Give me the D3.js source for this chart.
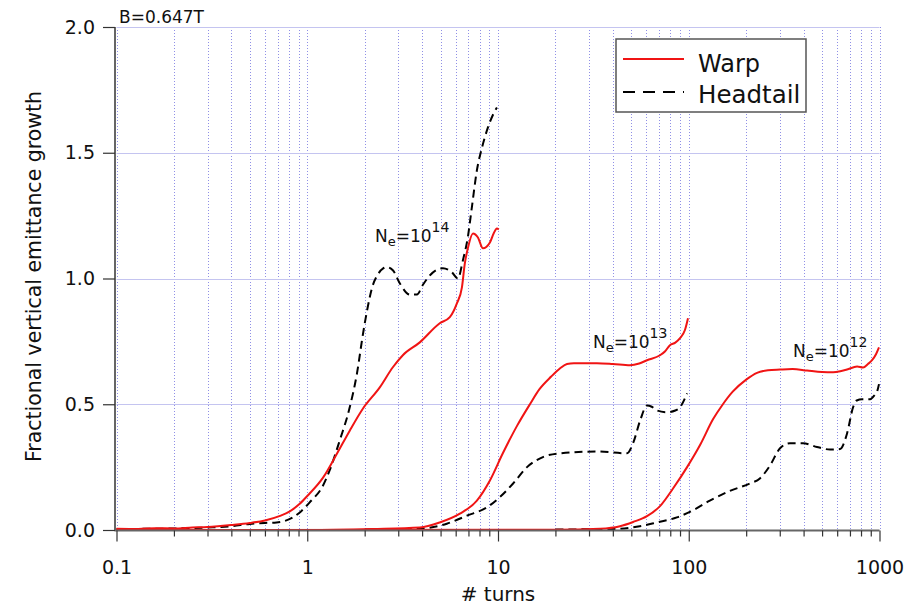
<!DOCTYPE html>
<html><head><meta charset="utf-8">
<script src="https://cdn.jsdelivr.net/npm/d3@7"></script>
<style>body{margin:0;background:#fff}svg{display:block}text{font-family:"DejaVu Sans",sans-serif;fill:#111}</style>
</head><body><svg id="c" width="918" height="606"></svg>
<script>
// ---- data (turns, fractional vertical emittance growth) ----
const warp14 = [[0.1,0.005],[0.13,0.004],[0.16,0.007],[0.2,0.006],[0.25,0.01],[0.3,0.012],[0.35,0.016],[0.4,0.02],[0.5,0.028],[0.6,0.038],[0.72,0.056],[0.81,0.074],[0.91,0.103],[1.0,0.135],[1.21,0.208],[1.43,0.303],[1.67,0.395],[1.96,0.483],[2.4,0.567],[2.81,0.647],[3.17,0.695],[3.89,0.746],[4.95,0.822],[5.59,0.846],[6.08,0.9],[6.47,0.965],[6.7,1.06],[6.95,1.12],[7.39,1.179],[7.85,1.163],[8.34,1.12],[9.07,1.143],[9.5,1.18],[9.87,1.199],[10.1,1.195]];
const headtail14 = [[0.1,0.004],[0.2,0.006],[0.3,0.01],[0.4,0.015],[0.5,0.024],[0.6,0.028],[0.69,0.03],[0.84,0.05],[0.93,0.075],[1.03,0.11],[1.21,0.177],[1.31,0.237],[1.48,0.356],[1.67,0.488],[1.82,0.62],[1.96,0.78],[2.06,0.874],[2.2,0.97],[2.32,1.01],[2.5,1.04],[2.61,1.045],[2.81,1.033],[3.06,0.98],[3.45,0.936],[3.76,0.936],[4.04,0.975],[4.4,1.013],[5.14,1.041],[5.73,1.025],[6.16,1.0],[6.55,1.073],[6.95,1.165],[7.3,1.285],[7.75,1.43],[8.24,1.52],[8.85,1.6],[9.4,1.65],[9.87,1.68]];
const warp13 = [[0.1,0],[1,0],[2.21,0.004],[3.89,0.01],[4.95,0.03],[6.31,0.065],[7.75,0.117],[9.07,0.197],[10.6,0.305],[12.6,0.415],[14.7,0.5],[16.5,0.56],[19,0.61],[21.1,0.642],[23,0.66],[25,0.663],[33,0.663],[40,0.66],[49.2,0.655],[55,0.662],[60.4,0.675],[70.7,0.695],[75,0.71],[79.7,0.735],[85,0.745],[90,0.763],[95.5,0.795],[99.1,0.842]];
const headtail13 = [[2,0.002],[3,0.003],[3.89,0.005],[5.39,0.025],[6.87,0.057],[8.75,0.09],[10.2,0.13],[12,0.185],[14.2,0.25],[17.2,0.29],[21.1,0.305],[33,0.312],[47.5,0.305],[51,0.344],[55.6,0.435],[60.4,0.495],[64,0.49],[68.2,0.475],[76.9,0.468],[85,0.475],[90,0.488],[98,0.543]];
const warp12 = [[0.1,0],[20,0.001],[34.3,0.005],[43.6,0.015],[51.1,0.032],[60.4,0.055],[70.7,0.095],[82.7,0.165],[98,0.25],[115,0.34],[134,0.44],[151,0.5],[170,0.55],[200,0.598],[228,0.625],[260,0.635],[301,0.638],[350,0.64],[417,0.634],[500,0.628],[571,0.627],[630,0.632],[676,0.638],[763,0.65],[820,0.646],[870,0.66],[914,0.675],[960,0.7],[994,0.726]];
const headtail12 = [[20,0.002],[40,0.004],[55.4,0.015],[68,0.03],[86.6,0.05],[105,0.078],[129,0.117],[164,0.155],[209,0.185],[236,0.205],[266,0.255],[301,0.325],[339,0.345],[397,0.345],[470,0.33],[550,0.32],[621,0.322],[676,0.384],[727,0.488],[760,0.515],[810,0.52],[893,0.52],[940,0.535],[971,0.55],[994,0.58]];
const xMajorTicks = [0.1, 1, 10, 100, 1000];
const xTickLabels = ["0.1", "1", "10", "100", "1000"];
const yTicks = [0, 0.5, 1.0, 1.5, 2.0];
const seriesNames = ["Warp", "Headtail"];
const annotations = [
  {exp: "14", t: 2.05, v: 1.15},
  {exp: "13", t: 25, v: 0.72},
  {exp: "12", t: 260, v: 0.69}
];

// ---- drawing ----
const svg = d3.select("#c");
const x = d3.scaleLog().domain([0.1, 1000]).range([116.5, 879.5]);
const y = d3.scaleLinear().domain([0, 2]).range([530, 27]);
const snap = v => Math.round(v) + 0.5;

const xMinor = [];
[0.1, 1, 10, 100].forEach(d => { for (let k = 1; k <= 9; k++) xMinor.push(+(d * k).toPrecision(3)); });
xMinor.push(1000);

// gridlines
const g = svg.append("g");
g.selectAll("line.v").data(xMinor).join("line")
  .attr("x1", d => snap(x(d))).attr("x2", d => snap(x(d)))
  .attr("y1", y(2)).attr("y2", y(0))
  .attr("stroke", "#8f8fe6").attr("stroke-width", 1).attr("stroke-dasharray", "1,2");
g.selectAll("line.h").data(yTicks.filter(d => d > 0)).join("line")
  .attr("x1", x(0.1)).attr("x2", x(1000))
  .attr("y1", d => snap(y(d))).attr("y2", d => snap(y(d)))
  .attr("stroke", "#c4c4f0").attr("stroke-width", 1);

// curves
const line = d3.line().x(d => x(d[0])).y(d => y(d[1])).curve(d3.curveMonotoneX);
[headtail12, headtail13, headtail14].forEach(s => {
  svg.append("path").datum(s).attr("d", line).attr("fill", "none")
    .attr("stroke", "#000").attr("stroke-width", 2).attr("stroke-dasharray", "8,5");
});
[warp12, warp13, warp14].forEach(s => {
  svg.append("path").datum(s).attr("d", line).attr("fill", "none")
    .attr("stroke", "#f01414").attr("stroke-width", 2);
});

// axes
const xAxis = svg.append("g").attr("transform", "translate(0,530.5)")
  .call(d3.axisBottom(x).tickValues(xMajorTicks).tickSize(11).tickSizeOuter(0).tickPadding(19)
    .tickFormat((d, i) => xTickLabels[i]));
svg.append("g").attr("transform", "translate(0,530.5)")
  .call(d3.axisBottom(x).tickValues(xMinor.filter(d => !xMajorTicks.includes(d))).tickSize(6).tickSizeOuter(0).tickFormat(""))
  .call(a => a.select(".domain").remove());
const yAxis = svg.append("g").attr("transform", "translate(115,0)")
  .call(d3.axisLeft(y).tickValues(yTicks).tickFormat(d3.format(".1f")).tickSize(12).tickSizeOuter(0).tickPadding(8));
svg.selectAll(".domain").attr("stroke", "#666").attr("stroke-width", 2);
svg.selectAll(".tick line").attr("stroke", "#333").attr("stroke-width", 1.2);
svg.selectAll(".tick text").style("font-family", "DejaVu Sans").style("font-size", "19px").attr("fill", "#111");
xAxis.select(".domain").attr("d", `M${x(0.1) - 2},0H${x(1000)}`);
yAxis.select(".domain").attr("d", `M0,${y(2)}V${y(0) + 1}`);

// axis titles
svg.append("text").attr("x", 498).attr("y", 601).attr("text-anchor", "middle")
  .style("font-size", "20px").text("# turns");
svg.append("text").attr("transform", "translate(41,276.5) rotate(-90)").attr("text-anchor", "middle")
  .style("font-size", "20.5px").text("Fractional vertical emittance growth");
svg.append("text").attr("x", 119).attr("y", 23).style("font-size", "17px").text("B=0.647T");

// annotations
const ann = svg.append("g");
const annPos = [[375, 242], [593, 348], [793, 357]];
annotations.forEach((a, i) => {
  const t = ann.append("text").attr("x", annPos[i][0]).attr("y", annPos[i][1]).style("font-size", "17px");
  t.append("tspan").text("N");
  t.append("tspan").attr("dy", 4).style("font-size", "13px").text("e");
  t.append("tspan").attr("dy", -4).text("=10");
  t.append("tspan").attr("dy", -10).style("font-size", "14px").text(a.exp);
});

// legend
const lg = svg.append("g");
lg.append("rect").attr("x", 616).attr("y", 39).attr("width", 190).attr("height", 73)
  .attr("fill", "#fff").attr("stroke", "#555").attr("stroke-width", 1.5);
lg.append("line").attr("x1", 623).attr("x2", 684).attr("y1", 59).attr("y2", 59)
  .attr("stroke", "#f01414").attr("stroke-width", 2);
lg.append("line").attr("x1", 623).attr("x2", 684).attr("y1", 92).attr("y2", 92)
  .attr("stroke", "#000").attr("stroke-width", 2).attr("stroke-dasharray", "12,8");
lg.append("text").attr("x", 698).attr("y", 72).style("font-size", "24px").text(seriesNames[0]);
lg.append("text").attr("x", 698).attr("y", 103).style("font-size", "24.5px").text(seriesNames[1]);
</script></body></html>
